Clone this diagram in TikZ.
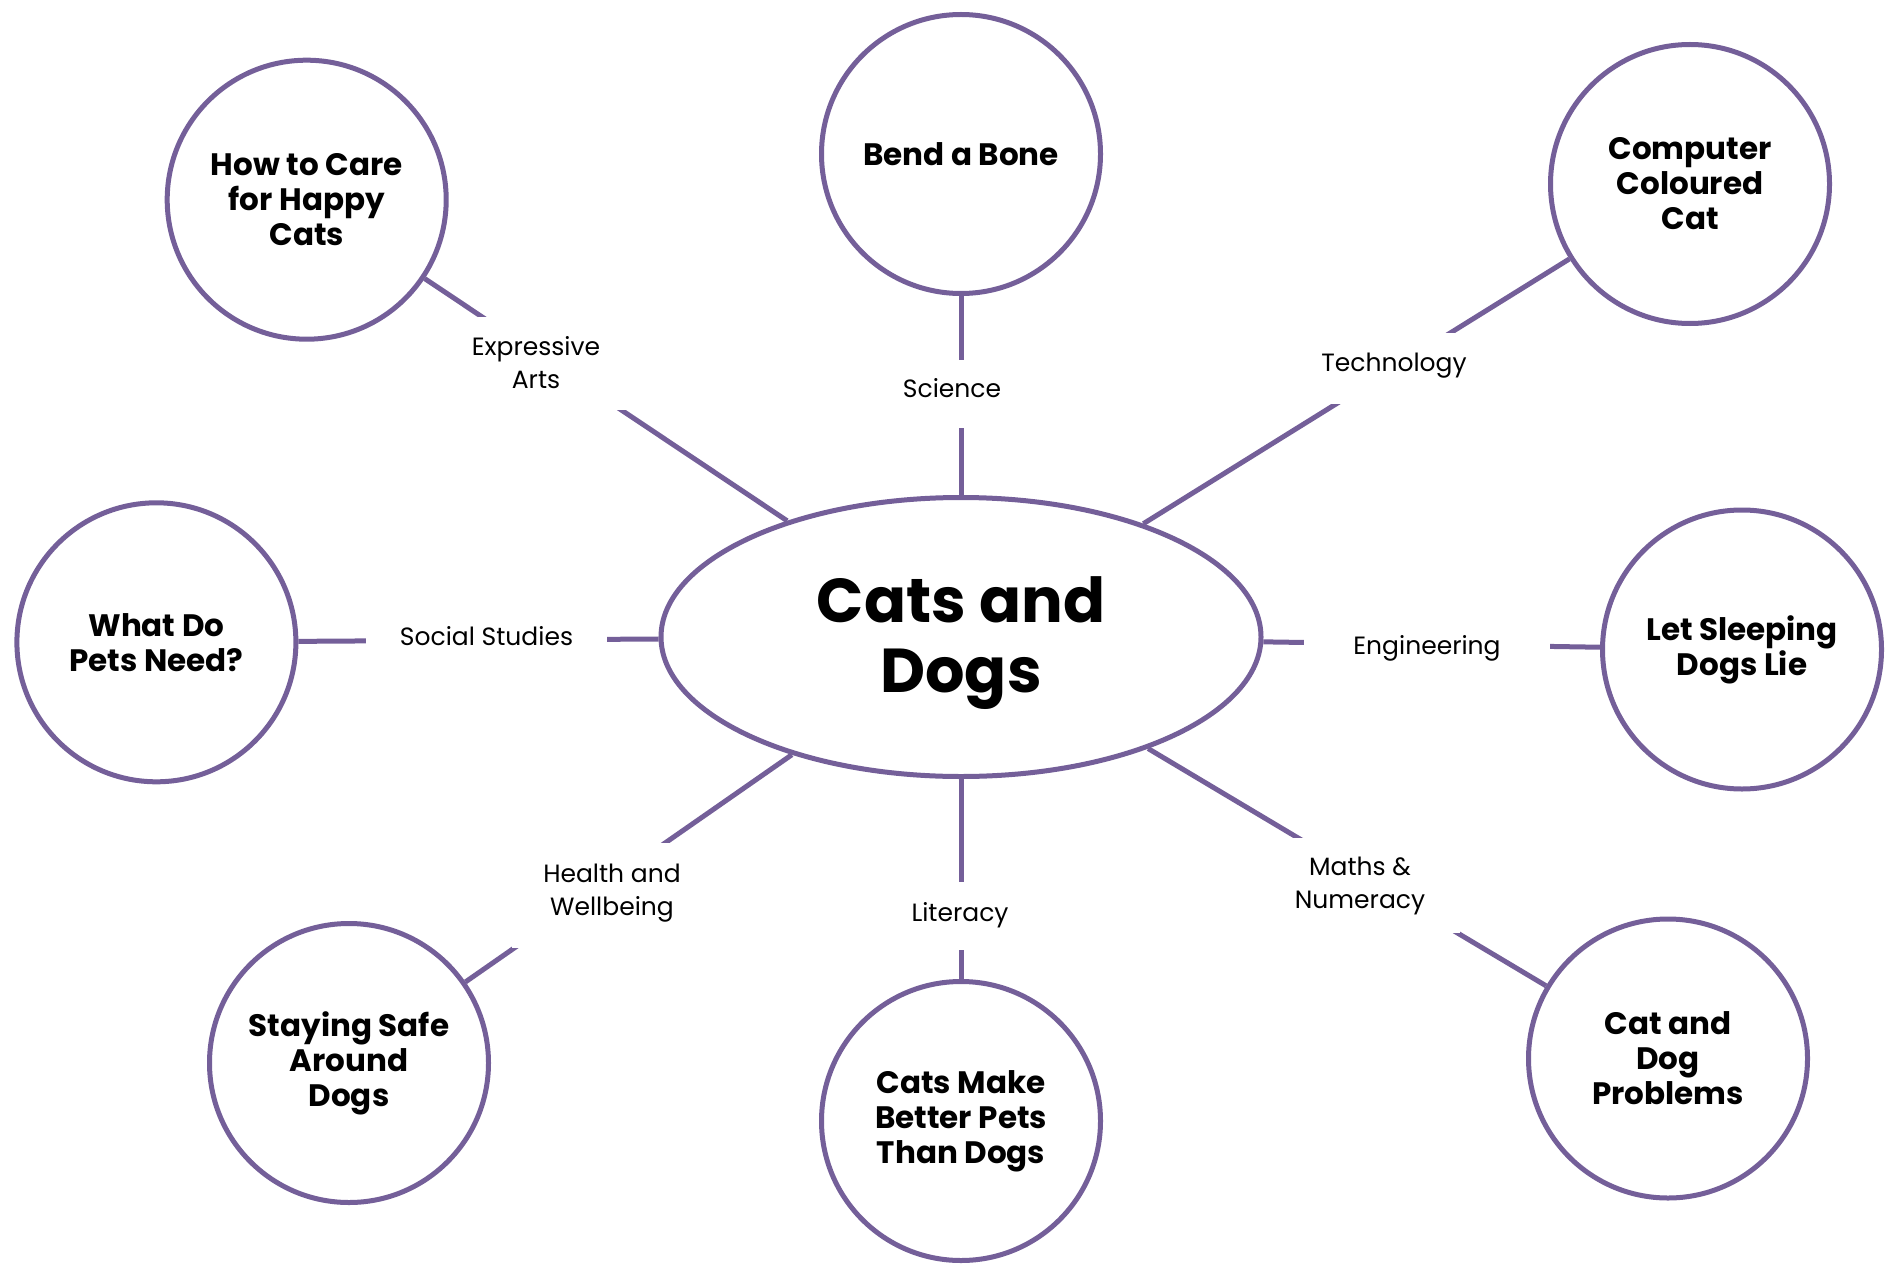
\documentclass[tikz,border=0pt]{standalone}
\usepackage{fontspec}
\setmainfont{Poppins}
\usetikzlibrary{shapes.geometric}
\definecolor{pur}{RGB}{116,95,153}
\begin{document}
\begin{tikzpicture}[x=1pt,y=-1pt,
  topic/.style={circle,draw=pur,line width=5pt,fill=white,minimum size=279pt,inner sep=0pt,align=center,font=\fontsize{31}{35}\selectfont\bfseries},
  hub/.style={ellipse,draw=pur,line width=5pt,fill=white,minimum width=600pt,minimum height=279pt,inner sep=0pt},
  hubtext/.style={inner sep=0pt,align=center,font=\fontsize{62}{70}\selectfont\bfseries},
  link/.style={draw=pur,line width=5pt},
  gapbox/.style={fill=white,inner sep=0pt},
  subj/.style={inner sep=0pt,align=center,font=\fontsize{25}{33}\selectfont}]
\path[use as bounding box] (0,0) rectangle (1886,1265);
\node[hub,label={[hubtext,yshift=-6pt]center:Cats and\\Dogs}] (main) at (961,637) {};
\node[topic] (care) at (306.7,199.7) {How to Care\\for Happy\\Cats};
\node[topic] (bone) at (961,154) {Bend a Bone};
\node[topic] (comp) at (1690,184) {Computer\\Coloured\\Cat};
\node[topic] (pets) at (156.4,642.3) {What Do\\Pets Need?};
\node[topic] (sleep) at (1742,649.5) {Let Sleeping\\Dogs Lie};
\node[topic] (safe) at (349,1063) {Staying Safe\\Around\\Dogs};
\node[topic] (better) at (961,1121) {Cats Make\\Better Pets\\Than Dogs};
\node[topic] (prob) at (1668,1058.5) {Cat and\\Dog\\Problems};
\draw[link] (main) -- (care);
\draw[link] (main) -- (bone);
\draw[link] (main) -- (comp);
\draw[link] (main) -- (pets);
\draw[link] (main) -- (sleep);
\draw[link] (main) -- (safe);
\draw[link] (main) -- (better);
\draw[link] (main) -- (prob);
\node[gapbox,minimum width=190pt,minimum height=93pt,label={[subj,yshift=1pt]center:Expressive\\Arts}] (expr) at (536,363.5) {};
\node[gapbox,minimum width=120pt,minimum height=68pt,label={[subj,yshift=6pt]center:Science}] (sci) at (952,394) {};
\node[gapbox,minimum width=160pt,minimum height=71pt,label={[subj,yshift=2.5pt]center:Technology}] (tech) at (1394,368.5) {};
\node[gapbox,minimum width=241pt,minimum height=60pt,label={[subj,yshift=2.5pt]center:Social Studies}] (soc) at (486.5,639) {};
\node[gapbox,minimum width=246pt,minimum height=60pt,label={[subj,yshift=-3.5pt]center:Engineering}] (eng) at (1427,645) {};
\node[gapbox,minimum width=200pt,minimum height=105pt,label={[subj,yshift=2.5pt]center:Health and\\Wellbeing}] (hw) at (612,895.5) {};
\node[gapbox,minimum width=120pt,minimum height=68pt,label={[subj,yshift=1pt]center:Literacy}] (lit) at (960,916) {};
\node[gapbox,minimum width=200pt,minimum height=95pt,label={[subj]center:Maths \&\\Numeracy}] (math) at (1360,885.5) {};
\end{tikzpicture}
\end{document}
